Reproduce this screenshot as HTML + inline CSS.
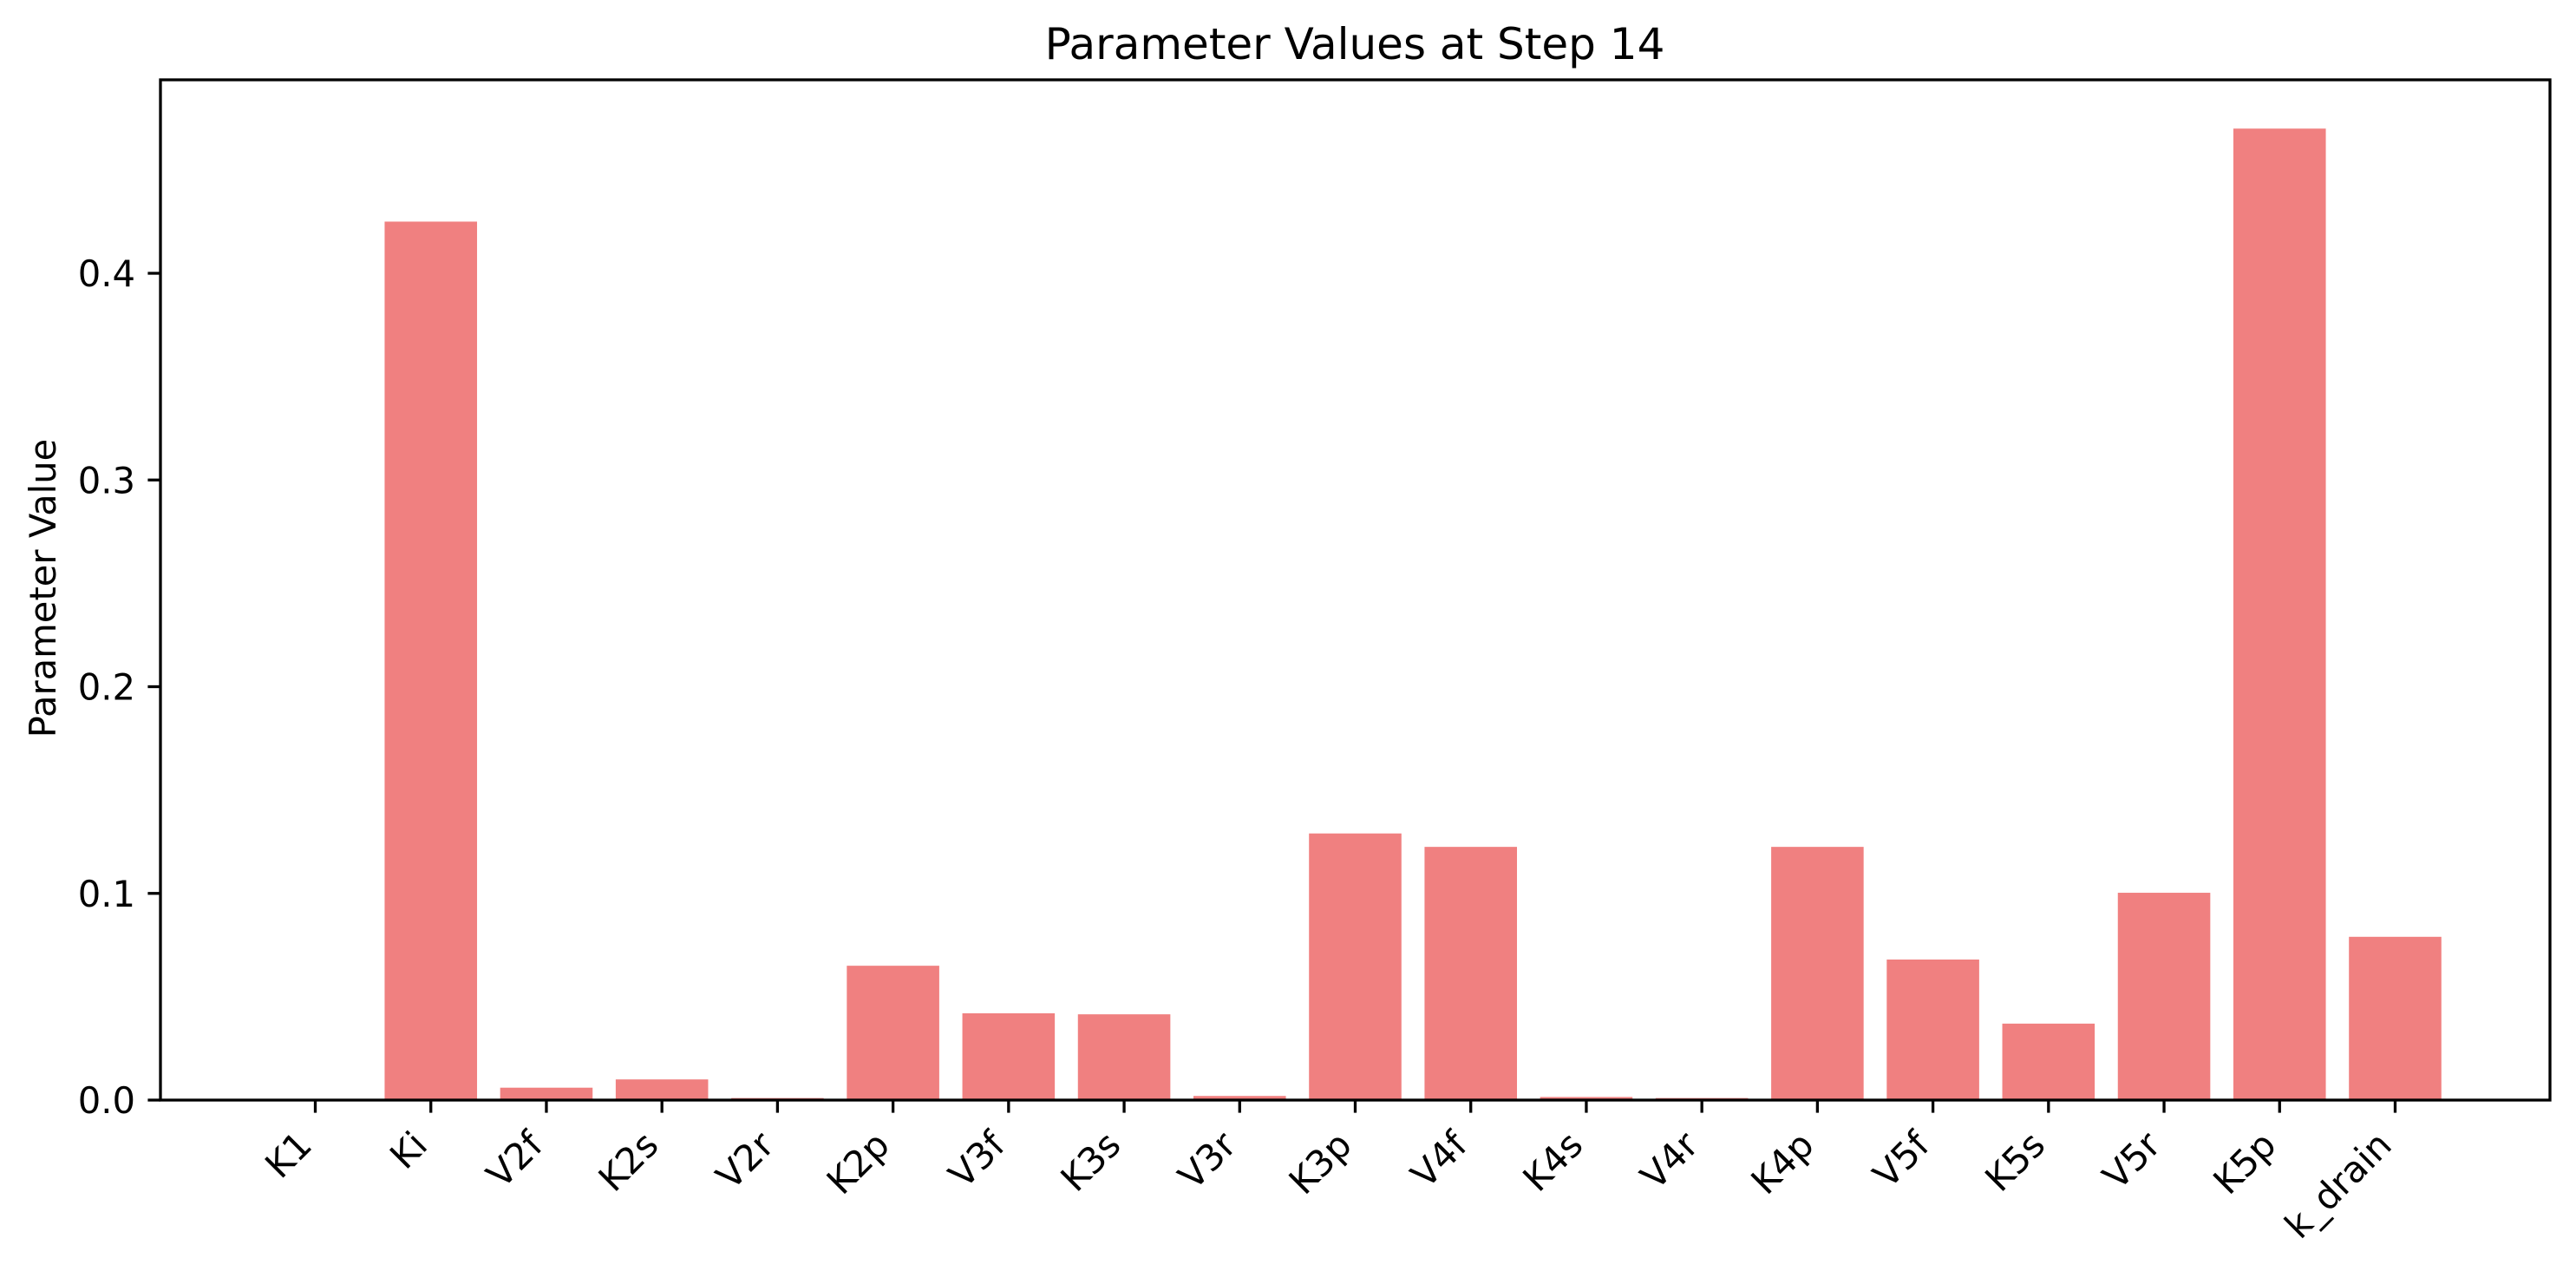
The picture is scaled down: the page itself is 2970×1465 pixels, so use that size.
<!DOCTYPE html>
<html><head><meta charset="utf-8"><style>
html,body{margin:0;padding:0;background:#fff;}
svg{display:block;font-family:"DejaVu Sans","Liberation Sans",sans-serif;}
</style></head><body>
<svg id="chart" width="2970" height="1465" viewBox="0 0 2970 1465" xmlns="http://www.w3.org/2000/svg">
<rect x="0" y="0" width="2970" height="1465" fill="#fff"/>
<text x="1562" y="68" font-size="50" text-anchor="middle">Parameter Values at Step 14</text>
<text x="0" y="0" font-size="41.7" text-anchor="middle" transform="translate(64,678) rotate(-90)">Parameter Value</text>
<g id="bars"></g>
<g id="ticks"></g>
<rect x="185" y="92" width="2755" height="1176" fill="none" stroke="#000" stroke-width="3.3"/>
</svg>
<script>
const categories = ["K1","Ki","V2f","K2s","V2r","K2p","V3f","K3s","V3r","K3p","V4f","K4s","V4r","K4p","V5f","K5s","V5r","K5p","k_drain"];
const values = [0.0, 0.425, 0.006, 0.010, 0.001, 0.065, 0.042, 0.0415, 0.002, 0.129, 0.1225, 0.0015, 0.001, 0.1225, 0.068, 0.037, 0.1003, 0.470, 0.079];
const yTicks = [0.0, 0.1, 0.2, 0.3, 0.4];
const yTickLabels = ["0.0","0.1","0.2","0.3","0.4"];

const NS = "http://www.w3.org/2000/svg";
const L = 185, R = 2940, T = 92, B = 1268;
const xMin = -0.4 - 0.94, xMax = 18.4 + 0.94;
const yMin = 0, yMax = 0.4936;
function xScale(v){ return L + (v - xMin) / (xMax - xMin) * (R - L); }
function yScale(v){ return B - (v - yMin) / (yMax - yMin) * (B - T); }

const barsG = document.getElementById('bars');
const ticksG = document.getElementById('ticks');
categories.forEach((c, i) => {
  const x0 = xScale(i - 0.4), x1 = xScale(i + 0.4);
  const y = yScale(values[i]);
  const r = document.createElementNS(NS, 'rect');
  r.setAttribute('x', x0); r.setAttribute('width', x1 - x0);
  r.setAttribute('y', y); r.setAttribute('height', Math.max(0, B - y));
  r.setAttribute('fill', '#f08080');
  
  
  barsG.appendChild(r);

  const xc = xScale(i);
  const t = document.createElementNS(NS, 'line');
  t.setAttribute('x1', xc); t.setAttribute('x2', xc);
  t.setAttribute('y1', B); t.setAttribute('y2', B + 14.6);
  t.setAttribute('stroke', '#000'); t.setAttribute('stroke-width', '3.3');
  
  
  ticksG.appendChild(t);

  const lb = document.createElementNS(NS, 'text');
  lb.textContent = c;
  lb.setAttribute('font-size', '41.7');
  lb.setAttribute('text-anchor', 'end');
  lb.setAttribute('dominant-baseline', 'central');
  lb.setAttribute('transform', 'translate(' + (xc - 12) + ',' + (B + 44) + ') rotate(-45)');
  
  
  ticksG.appendChild(lb);
});

yTicks.forEach((v, i) => {
  const y = yScale(v);
  const t = document.createElementNS(NS, 'line');
  t.setAttribute('x1', L - 14.6); t.setAttribute('x2', L);
  t.setAttribute('y1', y); t.setAttribute('y2', y);
  t.setAttribute('stroke', '#000'); t.setAttribute('stroke-width', '3.3');
  
  
  ticksG.appendChild(t);
  const lb = document.createElementNS(NS, 'text');
  lb.textContent = yTickLabels[i];
  lb.setAttribute('x', L - 29);
  lb.setAttribute('y', y + 15);
  lb.setAttribute('font-size', '41.7');
  lb.setAttribute('text-anchor', 'end');
  
  
  ticksG.appendChild(lb);
});
</script>
</body></html>
